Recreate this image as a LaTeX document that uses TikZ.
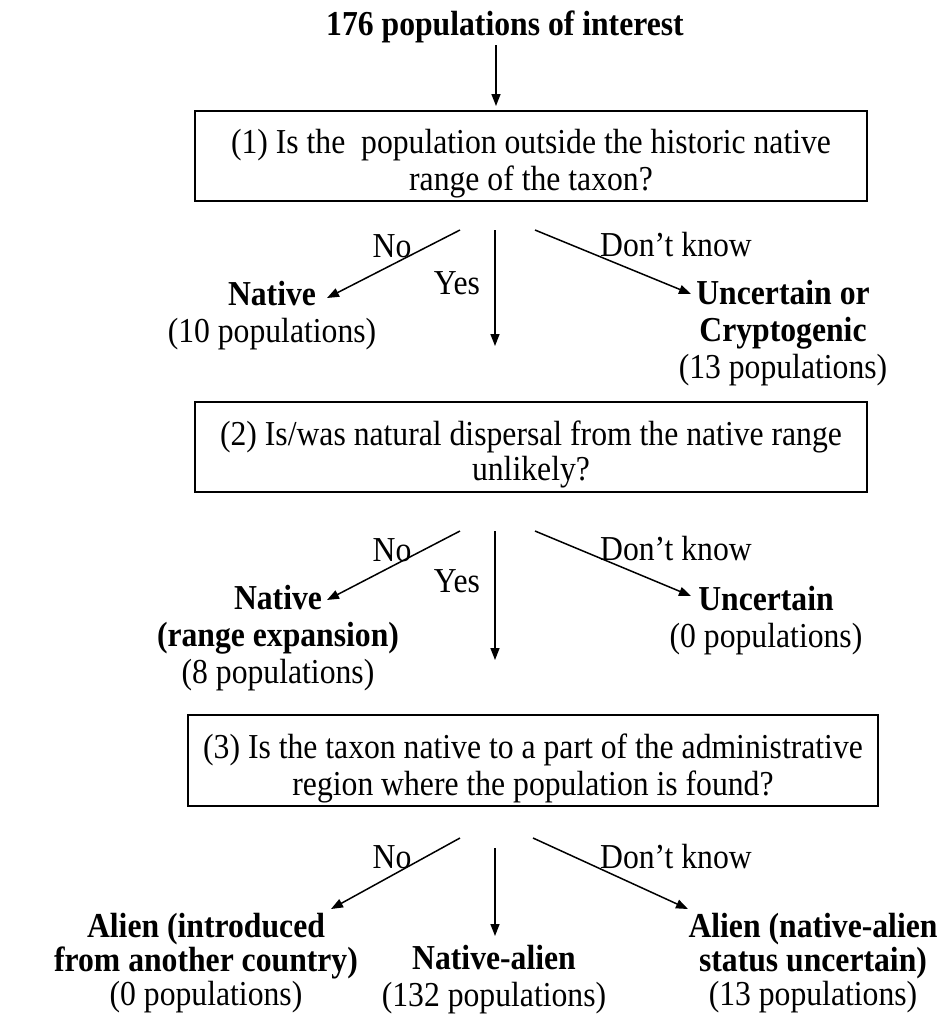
\documentclass[tikz,border=0pt]{standalone}
\usepackage{fontspec}
\setmainfont{Liberation Serif}[FakeStretch=0.905]
\usetikzlibrary{arrows.meta}
\newcommand{\topstrut}{\rule{0pt}{40pt}}
\begin{document}
\begin{tikzpicture}[x=1pt,y=-1pt,
  txt/.style={font=\fontsize{35}{37}\selectfont, inner sep=0pt, align=center, anchor=base},
  bx/.style={draw, line width=1.4pt, font=\fontsize{35}{37}\selectfont, align=center, inner sep=0pt},
  lbl/.style={font=\fontsize{35}{37}\selectfont, inner sep=0pt},
  arr/.style={line width=1.5pt, -{Triangle[length=12pt,width=9pt]}}]
\useasboundingbox (0,0) rectangle (944,1021);
% title
\node[txt,font=\fontsize{35}{37}\selectfont\bfseries] (title) at (505,35) {176 populations of interest};
% boxes
\node[bx, minimum width=672pt, minimum height=90pt] (q1) at (531,156) {\topstrut(1) Is the~ population outside the historic native\\range of the taxon?};
\node[bx, minimum width=672pt, minimum height=90pt, font=\fontsize{35}{35}\selectfont] (q2) at (531,447) {\topstrut(2) Is/was natural dispersal from the native range\\unlikely?};
\node[bx, minimum width=690pt, minimum height=91pt] (q3) at (533,760.5) {\topstrut(3) Is the taxon native to a part of the administrative\\region where the population is found?};
% outcome nodes (base = last line)
\node[txt] (nat1) at (272,342) {\textbf{Native}\\(10 populations)};
\node[txt] (unc1) at (783,378) {\textbf{Uncertain or}\\\textbf{Cryptogenic}\\(13 populations)};
\node[txt] (nat2) at (278,683) {\textbf{Native}\\\textbf{(range expansion)}\\(8 populations)};
\node[txt] (unc2) at (766,647) {\textbf{Uncertain}\\(0 populations)};
\node[txt,font=\fontsize{35}{34}\selectfont] (ali1) at (206,1005) {\textbf{Alien (introduced}\\\textbf{from another country)}\\(0 populations)};
\node[txt] (nal) at (494,1006) {\textbf{Native-alien}\\(132 populations)};
\node[txt,font=\fontsize{35}{34}\selectfont] (ali2) at (813,1005) {\textbf{Alien (native-alien}\\\textbf{status uncertain)}\\(13 populations)};
% coordinates for arrow ends
\coordinate (t0) at (496,45);
\coordinate (t1) at (496,106);
\coordinate (a1n) at (460,230); \coordinate (e1n) at (327,298);
\coordinate (a1y) at (495,230); \coordinate (e1y) at (495,346);
\coordinate (a1d) at (535,230); \coordinate (e1d) at (691,294);
\coordinate (a2n) at (460,531); \coordinate (e2n) at (327,600);
\coordinate (a2y) at (495,531); \coordinate (e2y) at (495,660);
\coordinate (a2d) at (535,531); \coordinate (e2d) at (691,596);
\coordinate (a3n) at (460,838); \coordinate (e3n) at (331,909);
\coordinate (a3y) at (495,848); \coordinate (e3y) at (495,936);
\coordinate (a3d) at (533,838); \coordinate (e3d) at (688,909);
% arrows
\draw[arr] (t0) -- (t1);
\draw[arr] (a1n) -- (e1n);
\draw[arr] (a1y) -- (e1y);
\draw[arr] (a1d) -- (e1d);
\draw[arr] (a2n) -- (e2n);
\draw[arr] (a2y) -- (e2y);
\draw[arr] (a2d) -- (e2d);
\draw[arr] (a3n) -- (e3n);
\draw[arr] (a3y) -- (e3y);
\draw[arr] (a3d) -- (e3d);
% labels
\node[lbl] (no1) at (392,246) {No};
\node[lbl] (yes1) at (457,283) {Yes};
\node[lbl] (dk1) at (676,245) {Don't know};
\node[lbl] (no2) at (392,550) {No};
\node[lbl] (yes2) at (457,581) {Yes};
\node[lbl] (dk2) at (676,549) {Don't know};
\node[lbl] (no3) at (392,857) {No};
\node[lbl] (dk3) at (676,857) {Don't know};
\end{tikzpicture}
\end{document}
